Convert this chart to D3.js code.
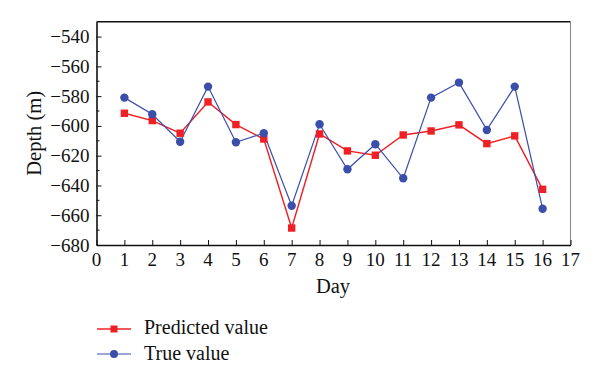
<!DOCTYPE html>
<html><head><meta charset="utf-8">
<script src="https://cdn.jsdelivr.net/npm/d3@7"></script>
<style>body{margin:0;background:#fff}svg{display:block}</style>
</head><body><svg id="c" width="600" height="382" font-family="Liberation Serif, DejaVu Serif, serif"></svg>
<script>
const days = [1,2,3,4,5,6,7,8,9,10,11,12,13,14,15,16];
const predicted = [-591.5,-596.4,-604.9,-583.9,-599.1,-608.8,-668.6,-605.4,-616.8,-619.7,-606.1,-603.4,-599.3,-611.9,-606.7,-642.6];
const trueVals = [-581,-592.2,-610.6,-573.6,-611,-604.9,-653.6,-598.9,-629.1,-612.3,-635.2,-581,-570.9,-602.7,-573.6,-655.6];
const xTicks = d3.range(0,18);
const yTicks = [-540,-560,-580,-600,-620,-640,-660,-680];
const yMinor = d3.range(-670,-530,20);

const svg = d3.select("#c");
const L=96.5, R=570.5, T=21.7, B=245;
const x = d3.scaleLinear().domain([0,17]).range([L,R]);
const y = d3.scaleLinear().domain([-680,-530]).range([B,T]);
const red="#ef1f26", blue="#3a4eaa";

// frame top/right
svg.append("line").attr("x1",L).attr("x2",R).attr("y1",T).attr("y2",T).attr("stroke","#111").attr("stroke-width",1.6);
svg.append("line").attr("x1",R).attr("x2",R).attr("y1",T).attr("y2",B).attr("stroke","#888").attr("stroke-width",1);

// x axis (ticks + line)
const xa = svg.append("g").attr("transform",`translate(0,${B})`)
  .call(d3.axisBottom(x).tickValues(xTicks).tickFormat("").tickSizeInner(-5).tickSizeOuter(0));
xa.select(".domain").attr("stroke","#111").attr("stroke-width",1.6);
xa.selectAll(".tick line").attr("stroke","#111");
svg.append("g").attr("class","xlab").selectAll("text").data(xTicks).join("text")
  .attr("x",d=>x(d)).attr("y",B+20.5).attr("text-anchor","middle")
  .attr("font-size",19).attr("fill","#111").text(d=>String(d));

// y axis
const ya = svg.append("g").attr("transform",`translate(${L},0)`)
  .call(d3.axisLeft(y).tickValues(yTicks).tickFormat("").tickSizeInner(-5).tickSizeOuter(0));
ya.select(".domain").attr("stroke","#111").attr("stroke-width",1.6);
ya.selectAll(".tick line").attr("stroke","#111");
svg.append("g").attr("class","ylab").selectAll("text").data(yTicks).join("text")
  .attr("x",L-7).attr("y",d=>y(d)+6.5).attr("text-anchor","end")
  .attr("font-size",19).attr("fill","#111").text(d=>"\u2212"+Math.abs(d));
svg.append("g").selectAll("line").data(yMinor).join("line")
  .attr("x1",L).attr("x2",L+3).attr("y1",d=>y(d)).attr("y2",d=>y(d)).attr("stroke","#111");

// labels
svg.append("text").attr("transform",`translate(41,${(T+B)/2}) rotate(-90)`).attr("text-anchor","middle").attr("font-size",20.5).attr("fill","#111").text("Depth (m)");
svg.append("text").attr("x",333).attr("y",293).attr("text-anchor","middle").attr("font-size",20.5).attr("fill","#111").text("Day");

const line = d3.line().x((d,i)=>x(days[i])).y(d=>y(d));
svg.append("path").datum(predicted).attr("d",line).attr("fill","none").attr("stroke",red).attr("stroke-width",1.4);
svg.append("path").datum(trueVals).attr("d",line).attr("fill","none").attr("stroke",blue).attr("stroke-width",1.2);
svg.append("g").selectAll("rect").data(predicted).join("rect")
  .attr("x",(d,i)=>x(days[i])-3.7).attr("y",d=>y(d)-3.7).attr("width",7.4).attr("height",7.4).attr("fill",red);
svg.append("g").selectAll("circle").data(trueVals).join("circle")
  .attr("cx",(d,i)=>x(days[i])).attr("cy",d=>y(d)).attr("r",4.2).attr("fill",blue);

// legend
const lg = svg.append("g").attr("font-size",20).attr("fill","#111");
lg.append("line").attr("x1",97).attr("x2",131).attr("y1",329).attr("y2",329).attr("stroke",red).attr("stroke-width",1.4);
lg.append("rect").attr("x",110.5).attr("y",325.5).attr("width",7).attr("height",7).attr("fill",red);
lg.append("text").attr("x",144).attr("y",334).text("Predicted value");
lg.append("line").attr("x1",97).attr("x2",131).attr("y1",354).attr("y2",354).attr("stroke",blue).attr("stroke-width",1.2);
lg.append("circle").attr("cx",114).attr("cy",354).attr("r",4).attr("fill",blue);
lg.append("text").attr("x",144).attr("y",360).text("True value");
</script></body></html>
